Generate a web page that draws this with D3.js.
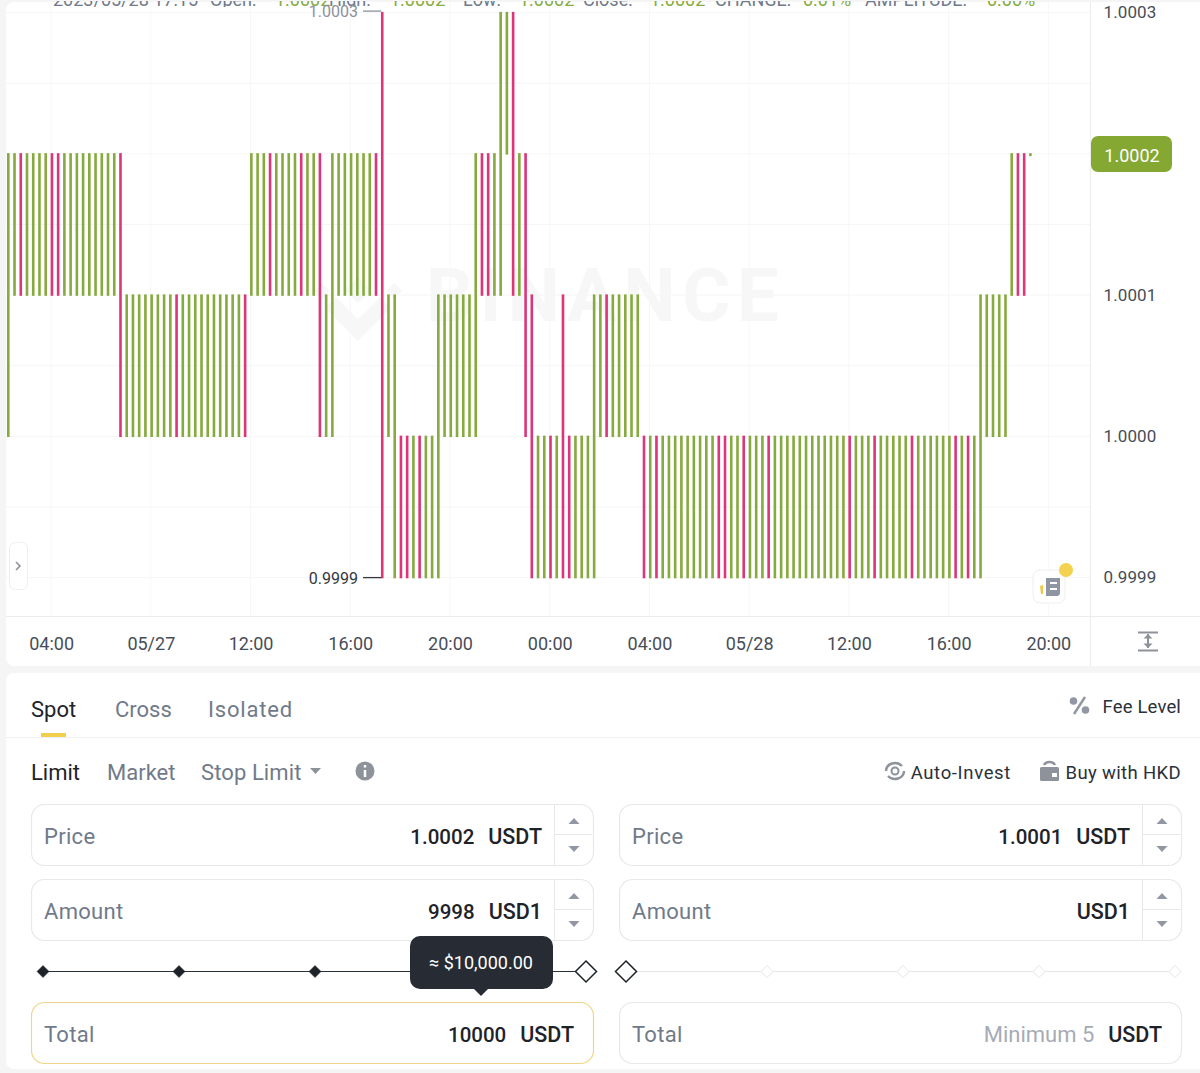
<!DOCTYPE html>
<html>
<head>
<meta charset="utf-8">
<script src="https://cdn.jsdelivr.net/npm/d3@7"></script>
<style>
  html, body { margin: 0; padding: 0; background: #f5f5f5; overflow: hidden; }
  text { font-family: Roboto, sans-serif; }
</style>
</head>
<body>
<script>
// one bar per 15 minutes
var barLow = [
  1.0000,1.0001,1.0001,1.0001,1.0001,1.0001,1.0001,1.0001,1.0001,1.0001,
  1.0001,1.0001,1.0001,1.0001,1.0001,1.0001,1.0001,1.0001,1.0000,1.0000,
  1.0000,1.0000,1.0000,1.0000,1.0000,1.0000,1.0000,1.0000,1.0000,1.0000,
  1.0000,1.0000,1.0000,1.0000,1.0000,1.0000,1.0000,1.0000,1.0000,1.0001,
  1.0001,1.0001,1.0001,1.0001,1.0001,1.0001,1.0001,1.0001,1.0001,1.0001,
  1.0000,1.0000,1.0000,1.0001,1.0001,1.0001,1.0001,1.0001,1.0001,1.0001,
  0.9999,1.0000,0.9999,0.9999,0.9999,0.9999,0.9999,0.9999,0.9999,0.9999,
  1.0000,1.0000,1.0000,1.0000,1.0000,1.0000,1.0001,1.0001,1.0001,1.0001,
  1.0002,1.0001,1.0001,1.0000,0.9999,0.9999,0.9999,0.9999,0.9999,0.9999,
  0.9999,0.9999,0.9999,0.9999,0.9999,1.0000,1.0000,1.0000,1.0000,1.0000,
  1.0000,1.0000,0.9999,0.9999,0.9999,0.9999,0.9999,0.9999,0.9999,0.9999,
  0.9999,0.9999,0.9999,0.9999,0.9999,0.9999,0.9999,0.9999,0.9999,0.9999,
  0.9999,0.9999,0.9999,0.9999,0.9999,0.9999,0.9999,0.9999,0.9999,0.9999,
  0.9999,0.9999,0.9999,0.9999,0.9999,0.9999,0.9999,0.9999,0.9999,0.9999,
  0.9999,0.9999,0.9999,0.9999,0.9999,0.9999,0.9999,0.9999,0.9999,0.9999,
  0.9999,0.9999,0.9999,0.9999,0.9999,0.9999,0.9999,1.0000,1.0000,1.0000,
  1.0000,1.0001,1.0001,1.0001,1.0002
];
var barHigh = [
  1.0002,1.0002,1.0002,1.0002,1.0002,1.0002,1.0002,1.0002,1.0002,1.0002,
  1.0002,1.0002,1.0002,1.0002,1.0002,1.0002,1.0002,1.0002,1.0002,1.0001,
  1.0001,1.0001,1.0001,1.0001,1.0001,1.0001,1.0001,1.0001,1.0001,1.0001,
  1.0001,1.0001,1.0001,1.0001,1.0001,1.0001,1.0001,1.0001,1.0001,1.0002,
  1.0002,1.0002,1.0002,1.0002,1.0002,1.0002,1.0002,1.0002,1.0002,1.0002,
  1.0002,1.0001,1.0002,1.0002,1.0002,1.0002,1.0002,1.0002,1.0002,1.0002,
  1.0003,1.0001,1.0001,1.0000,1.0000,1.0000,1.0000,1.0000,1.0000,1.0001,
  1.0001,1.0001,1.0001,1.0001,1.0001,1.0002,1.0002,1.0002,1.0002,1.0003,
  1.0003,1.0003,1.0002,1.0002,1.0001,1.0000,1.0000,1.0000,1.0000,1.0001,
  1.0000,1.0000,1.0000,1.0000,1.0001,1.0001,1.0001,1.0001,1.0001,1.0001,
  1.0001,1.0001,1.0000,1.0000,1.0000,1.0000,1.0000,1.0000,1.0000,1.0000,
  1.0000,1.0000,1.0000,1.0000,1.0000,1.0000,1.0000,1.0000,1.0000,1.0000,
  1.0000,1.0000,1.0000,1.0000,1.0000,1.0000,1.0000,1.0000,1.0000,1.0000,
  1.0000,1.0000,1.0000,1.0000,1.0000,1.0000,1.0000,1.0000,1.0000,1.0000,
  1.0000,1.0000,1.0000,1.0000,1.0000,1.0000,1.0000,1.0000,1.0000,1.0000,
  1.0000,1.0000,1.0000,1.0000,1.0000,1.0000,1.0001,1.0001,1.0001,1.0001,
  1.0001,1.0002,1.0002,1.0002,1.0002
];
// u = green, d = pink
var barDir = (
  "uuduuuuddu" + "uuuuuuuudu" + "uuuuuuuduu" + "uuuuuuuudu" + "uuduuuuduu" +
  "duuuuuuuud" + "duuddu" + "duuu" + "uuuuuudduu" + "ududduudud" +
  "duuuuuduuu" + "uududuuuuu" + "uuuudduudu" + "uuduuuuuuu" + "uuuuuduuud" +
  "uuuuuduuuu" + "uududuuuuu" + "uuddu"
).split("");

var timeTicks = ["04:00", "05/27", "12:00", "16:00", "20:00", "00:00", "04:00", "05/28", "12:00", "16:00", "20:00"];
var timeTickBars = [7, 23, 39, 55, 71, 87, 103, 119, 135, 151, 167];
var priceTicks = [1.0003, 1.0001, 1.0000, 0.9999];
var gridPrices = [1.0003, 1.00025, 1.0002, 1.00015, 1.0001, 1.00005, 1.0000, 0.99995, 0.9999];
var lastPrice = 1.0002;

var headerLabels = ["2023/05/28 17:15", "Open:", "1.0002", "High:", "1.0002", "Low:", "1.0002", "Close:", "1.0002", "CHANGE:", "0.01%", "AMPLITUDE:", "0.00%"];
var headerX = [53, 210, 275, 329, 390, 463, 519, 583, 650, 715, 803, 865, 987];

var GREEN = "#86aa3e", PINK = "#dc3579", DARK = "#1e2329", GREY = "#707a8a";

var svg = d3.select("body").append("svg")
  .attr("width", 1200)
  .attr("height", 1073)
  .style("display", "block");

var x = d3.scaleLinear().domain([0, 164]).range([8.3, 1030.4]);
var y = d3.scaleLinear().domain([0.9999, 1.0003]).range([577.6, 12.6]);

// panels
svg.append("rect").attr("x", 6).attr("y", 2).attr("width", 1210).attr("height", 664).attr("rx", 8).attr("fill", "#fff");
svg.append("rect").attr("x", 6).attr("y", 673).attr("width", 1210).attr("height", 396).attr("rx", 8).attr("fill", "#fff");

// grid
svg.append("g").selectAll("line").data(gridPrices).enter().append("line")
  .attr("x1", 6).attr("x2", 1090)
  .attr("y1", function (d) { return y(d); })
  .attr("y2", function (d) { return y(d); })
  .attr("stroke", "#f5f5f6");
svg.append("g").selectAll("line").data(timeTickBars).enter().append("line")
  .attr("x1", function (d) { return x(d) - 0.8; })
  .attr("x2", function (d) { return x(d) - 0.8; })
  .attr("y1", 2).attr("y2", 616)
  .attr("stroke", "#f7f7f8");

// watermark
var wm = svg.append("g").attr("fill", "#f7f7f7");
wm.append("text").attr("x", 426).attr("y", 321).attr("font-size", 74).attr("font-weight", 700)
  .attr("letter-spacing", 6.5).text("BINANCE");
wm.append("path").attr("d", "M358 277l13 13-13 13-13-13zM336 297l22 22 22-22 11 11-33 33-33-33zM330 291l-8 8-8-8 8-8zM386 291l8 8 8-8-8-8z")
  .attr("fill-rule", "evenodd");

// header, cut off at the top of the screenshot
var headerClip = svg.append("clipPath").attr("id", "hdr");
headerClip.append("rect").attr("x", 0).attr("y", 1).attr("width", 1200).attr("height", 6);
svg.append("g").attr("clip-path", "url(#hdr)").selectAll("text").data(headerLabels).enter().append("text")
  .attr("x", function (d, i) { return headerX[i]; })
  .attr("y", 6)
  .attr("font-size", 18)
  .attr("fill", function (d, i) { return (i > 0 && i % 2 == 0) ? GREEN : GREY; })
  .text(function (d) { return d; });

// bars
svg.append("g").selectAll("rect").data(barLow).enter().append("rect")
  .attr("x", function (d, i) { return x(i) - 1.3; })
  .attr("y", function (d, i) { return y(barHigh[i]) - 0.7; })
  .attr("width", 2.6)
  .attr("height", function (d, i) { return Math.max(y(d) - y(barHigh[i]) + 1.4, 3); })
  .attr("fill", function (d, i) { return barDir[i] == "u" ? GREEN : PINK; });

// high and low markers
function marker(value, barIndex, color, tx, lineDy, textDy) {
  svg.append("line").attr("x1", tx + 5).attr("x2", x(barIndex) - 1)
    .attr("y1", y(value) + lineDy).attr("y2", y(value) + lineDy).attr("stroke", color).attr("stroke-width", 1.3);
  svg.append("text").attr("x", tx).attr("y", y(value) + textDy).attr("text-anchor", "end")
    .attr("font-size", 16).attr("fill", color).text(d3.format(".4f")(value));
}
marker(1.0003, 60, "#8d929b", 358, -1.5, 4.5);
marker(0.9999, 60, "#33383f", 358, 0, 6);

// axes
svg.append("line").attr("x1", 6).attr("x2", 1200).attr("y1", 616.5).attr("y2", 616.5).attr("stroke", "#ebecee");
svg.append("line").attr("x1", 1090.5).attr("x2", 1090.5).attr("y1", 2).attr("y2", 666).attr("stroke", "#ebecee");

var priceAxis = d3.axisRight(y).tickValues(priceTicks).tickSize(0).tickPadding(0).tickFormat(d3.format(".4f"));
var priceG = svg.append("g").attr("transform", "translate(1103.5,-0.5)").call(priceAxis);
priceG.select(".domain").remove();
priceG.selectAll("text").attr("font-size", 17).attr("fill", "#474d57").attr("font-family", "Roboto").attr("letter-spacing", 0.1);

var timeAxis = d3.axisBottom(x).tickValues(timeTickBars).tickSize(0).tickPadding(0)
  .tickFormat(function (d, i) { return timeTicks[i]; });
var timeG = svg.append("g").attr("transform", "translate(-0.8,637)").call(timeAxis);
timeG.select(".domain").remove();
timeG.selectAll("text").attr("font-size", 18).attr("fill", "#474d57").attr("font-family", "Roboto");

// last price tag
svg.append("rect").attr("x", 1091).attr("y", 136).attr("width", 81).attr("height", 36).attr("rx", 7).attr("fill", "#84a832");
svg.append("text").attr("x", 1132).attr("y", 161.5).attr("text-anchor", "middle").attr("font-size", 18).attr("fill", "#fff").text(d3.format(".4f")(lastPrice));

// small chart buttons
svg.append("rect").attr("x", 9.5).attr("y", 542.5).attr("width", 18).attr("height", 47).attr("rx", 6).attr("fill", "#fff").attr("stroke", "#eeeeef");
svg.append("path").attr("d", "M16 562l4 4-4 4").attr("fill", "none").attr("stroke", "#8d929b").attr("stroke-width", 1.6);
svg.append("rect").attr("x", 1033).attr("y", 570).attr("width", 32).attr("height", 33).attr("rx", 7).attr("fill", "#fff").attr("stroke", "#eeeeef");
svg.append("path").attr("d", "M1046 578h14v16l-2 2h-12z").attr("fill", "#8f95a3");
svg.append("path").attr("d", "M1040 586l3-1v9h-2z").attr("fill", "#f0c94a");
svg.append("path").attr("d", "M1050 583h7M1050 589h7").attr("stroke", "#fff").attr("stroke-width", 2);
svg.append("circle").attr("cx", 1066).attr("cy", 570).attr("r", 7).attr("fill", "#f3d24f");
svg.append("path").attr("d", "M1138 632.5h20M1138 650.5h20M1148 634v14").attr("stroke", "#8d929b").attr("stroke-width", 2);
svg.append("path").attr("d", "M1143.5 638.5l4.5-4.5 4.5 4.5zM1143.5 643.5l4.5 4.5 4.5-4.5z").attr("fill", "#8d929b");

// order form
function label(tx, ty, str, size, color, anchor, spacing) {
  return svg.append("text").attr("x", tx).attr("y", ty).attr("font-size", size).attr("fill", color)
    .attr("text-anchor", anchor || "start").attr("letter-spacing", spacing || 0).text(str);
}
label(31, 717, "Spot", 22, DARK);
label(115, 717, "Cross", 22, GREY);
label(208, 717, "Isolated", 22, GREY, "start", 0.8);
svg.append("rect").attr("x", 41).attr("y", 733).attr("width", 25).attr("height", 4).attr("fill", "#f0cf4d");
svg.append("line").attr("x1", 6).attr("x2", 1200).attr("y1", 737.5).attr("y2", 737.5).attr("stroke", "#eff0f2");

label(31, 780, "Limit", 22, DARK);
label(107, 780, "Market", 22, GREY);
label(201, 780, "Stop Limit", 22, GREY, "start", 0.1);
svg.append("path").attr("d", "M310 768h11l-5.5 6z").attr("fill", "#8d929b");
svg.append("circle").attr("cx", 365).attr("cy", 771).attr("r", 9.5).attr("fill", "#8d929b");
svg.append("path").attr("d", "M365 770v7M365 765v2.5").attr("stroke", "#fff").attr("stroke-width", 2.5);

svg.append("circle").attr("cx", 1073.5).attr("cy", 701).attr("r", 3.8).attr("fill", "#9197a3");
svg.append("circle").attr("cx", 1085.5).attr("cy", 710).attr("r", 3.8).attr("fill", "#9197a3");
svg.append("path").attr("d", "M1085 697l-11 17").attr("stroke", "#9197a3").attr("stroke-width", 2.5);
label(1181, 713, "Fee Level", 18.5, "#2b3139", "end", 0.15);

svg.append("circle").attr("cx", 895).attr("cy", 771).attr("r", 3.5).attr("fill", "none").attr("stroke", "#8d929b").attr("stroke-width", 2);
svg.append("path").attr("d", "M886 771a9 8 0 0 1 16-5M904 771a9 8 0 0 1-16 5").attr("fill", "none").attr("stroke", "#8d929b").attr("stroke-width", 2.4);
label(1011, 779, "Auto-Invest", 18.5, "#2b3139", "end", 0.65);
svg.append("rect").attr("x", 1040).attr("y", 767).attr("width", 19).attr("height", 14).attr("rx", 1.5).attr("fill", "#8d929b");
svg.append("path").attr("d", "M1044 765a6 5 0 0 1 11 0").attr("fill", "none").attr("stroke", "#8d929b").attr("stroke-width", 2.4);
svg.append("rect").attr("x", 1052).attr("y", 773).attr("width", 5).attr("height", 4).attr("fill", "#fff");
label(1181, 779, "Buy with HKD", 18.5, "#2b3139", "end", 0.35);

// input boxes
function field(fx, fy, name, value, unit, stepper, border) {
  var w = 562, h = 61;
  svg.append("rect").attr("x", fx + 0.5).attr("y", fy + 0.5).attr("width", w).attr("height", h).attr("rx", 13)
    .attr("fill", "#fff").attr("stroke", border || "#e6e8ea").attr("stroke-width", 1.2);
  label(fx + 13, fy + 39.5, name, 22, GREY, "start", 0.3);
  var unitRight = stepper ? fx + 511 : fx + 543;
  var unitText = label(unitRight, fy + 39.5, unit, 21.5, DARK, "end").attr("font-weight", 500);
  if (value) {
    var isHint = value.indexOf("Minimum") == 0;
    var vx = unitRight - unitText.node().getComputedTextLength() - 14;
    label(vx, fy + 39.5, value, isHint ? 22 : 20.5, isHint ? "#a6abb5" : DARK, "end").attr("font-weight", isHint ? 400 : 500);
  }
  if (stepper) {
    svg.append("path").attr("d", "M" + (fx + 523.5) + " " + fy + "v" + h + "M" + (fx + 523.5) + " " + (fy + 30.5) + "h38")
      .attr("stroke", "#e6e8ea").attr("fill", "none");
    var cx = fx + 543;
    svg.append("path").attr("d", "M" + (cx - 5.5) + " " + (fy + 20) + "l5.5-6 5.5 6z").attr("fill", "#9197a3");
    svg.append("path").attr("d", "M" + (cx - 5.5) + " " + (fy + 42) + "l5.5 6 5.5-6z").attr("fill", "#9197a3");
  }
}
field(31, 804, "Price", "1.0002", "USDT", true);
field(31, 879, "Amount", "9998", "USD1", true);
field(31, 1002, "Total", "10000", "USDT", false, "#efd68a");
field(619, 804, "Price", "1.0001", "USDT", true);
field(619, 879, "Amount", "", "USD1", true);
field(619, 1002, "Total", "Minimum 5", "USDT", false);

// sliders
function diamond(cx, cy, r, fill, stroke, sw) {
  svg.append("path").attr("d", "M" + cx + " " + (cy - r) + "l" + r + " " + r + "l" + (-r) + " " + r + "l" + (-r) + " " + (-r) + "z")
    .attr("fill", fill).attr("stroke", stroke).attr("stroke-width", sw);
}
svg.append("line").attr("x1", 43).attr("x2", 586).attr("y1", 971.5).attr("y2", 971.5).attr("stroke", "#2b3139").attr("stroke-width", 1.2);
[43, 179, 315, 451].forEach(function (cx) { diamond(cx, 971.5, 6, DARK, DARK, 0.5); });
diamond(586, 971.5, 10.5, "#fff", "#1e2329", 1.5);
svg.append("line").attr("x1", 626).attr("x2", 1175).attr("y1", 971.5).attr("y2", 971.5).attr("stroke", "#e4e6e9").attr("stroke-width", 1.2);
[767, 903, 1039, 1175].forEach(function (cx) { diamond(cx, 971.5, 6, "#fff", "#e4e6e9", 1); });
diamond(626, 971.5, 10.5, "#fff", "#1e2329", 1.5);

// tooltip
svg.append("rect").attr("x", 410).attr("y", 936).attr("width", 143).attr("height", 53).attr("rx", 10).attr("fill", "#262b34");
svg.append("path").attr("d", "M473 988h16l-8 8z").attr("fill", "#262b34");
label(481, 969, "\u2248 $10,000.00", 18, "#fff", "middle");
</script>
</body>
</html>
